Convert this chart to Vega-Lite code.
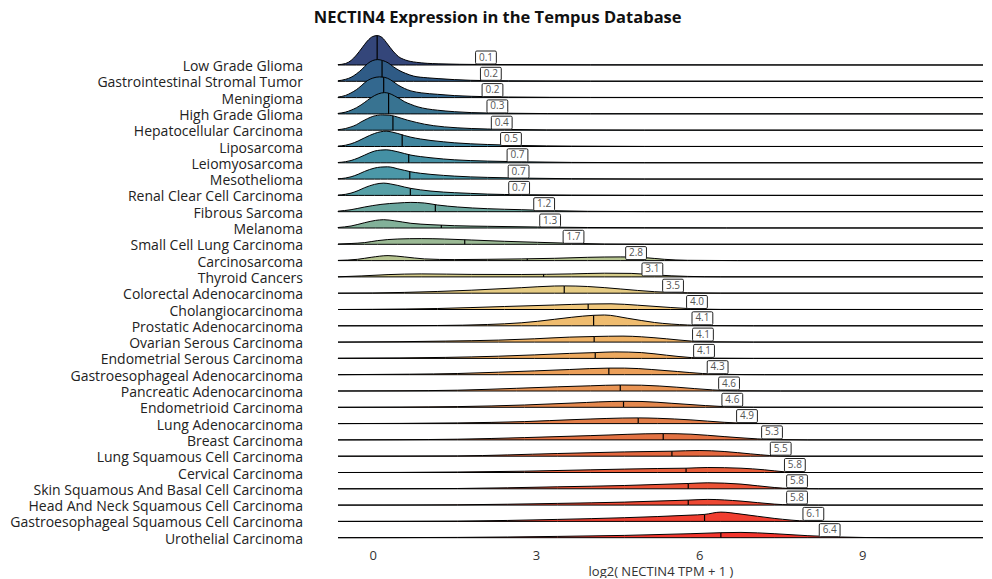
{
"$schema": "https://vega.github.io/schema/vega-lite/v6.json",
"padding": {"left": 10, "top": 10, "right": 5, "bottom": 0},
"bounds": "flush",
"spacing": 0.3,
"title": {"text": "NECTIN4 Expression in the Tempus Database", "fontSize": 16.5, "fontWeight": "bold", "font": "Open Sans", "color": "#111", "anchor": "middle", "frame": "bounds", "offset": 7},
"data": {"values": [
{"c":"Low Grade Glioma","x":-0.64,"d":0.03},{"c":"Low Grade Glioma","x":-0.5,"d":0.15},{"c":"Low Grade Glioma","x":-0.4,"d":0.45},{"c":"Low Grade Glioma","x":-0.3,"d":1.0},{"c":"Low Grade Glioma","x":-0.2,"d":1.7},{"c":"Low Grade Glioma","x":-0.1,"d":2.4},{"c":"Low Grade Glioma","x":0.0,"d":2.85},{"c":"Low Grade Glioma","x":0.08,"d":2.94},{"c":"Low Grade Glioma","x":0.17,"d":2.75},{"c":"Low Grade Glioma","x":0.27,"d":2.1},{"c":"Low Grade Glioma","x":0.37,"d":1.4},{"c":"Low Grade Glioma","x":0.47,"d":0.85},{"c":"Low Grade Glioma","x":0.6,"d":0.5},{"c":"Low Grade Glioma","x":0.8,"d":0.27},{"c":"Low Grade Glioma","x":1.2,"d":0.12},{"c":"Low Grade Glioma","x":2,"d":0.05},{"c":"Low Grade Glioma","x":4,"d":0.02},{"c":"Low Grade Glioma","x":11.22,"d":0},
{"c":"Gastrointestinal Stromal Tumor","x":-0.64,"d":0.05},{"c":"Gastrointestinal Stromal Tumor","x":-0.5,"d":0.2},{"c":"Gastrointestinal Stromal Tumor","x":-0.4,"d":0.4},{"c":"Gastrointestinal Stromal Tumor","x":-0.3,"d":0.75},{"c":"Gastrointestinal Stromal Tumor","x":-0.2,"d":1.2},{"c":"Gastrointestinal Stromal Tumor","x":-0.1,"d":1.75},{"c":"Gastrointestinal Stromal Tumor","x":0.0,"d":2.08},{"c":"Gastrointestinal Stromal Tumor","x":0.09,"d":2.17},{"c":"Gastrointestinal Stromal Tumor","x":0.18,"d":2.08},{"c":"Gastrointestinal Stromal Tumor","x":0.28,"d":1.85},{"c":"Gastrointestinal Stromal Tumor","x":0.38,"d":1.45},{"c":"Gastrointestinal Stromal Tumor","x":0.48,"d":1.1},{"c":"Gastrointestinal Stromal Tumor","x":0.6,"d":0.8},{"c":"Gastrointestinal Stromal Tumor","x":0.75,"d":0.52},{"c":"Gastrointestinal Stromal Tumor","x":1.0,"d":0.35},{"c":"Gastrointestinal Stromal Tumor","x":1.2,"d":0.27},{"c":"Gastrointestinal Stromal Tumor","x":1.8,"d":0.1},{"c":"Gastrointestinal Stromal Tumor","x":2.5,"d":0.05},{"c":"Gastrointestinal Stromal Tumor","x":4,"d":0.02},{"c":"Gastrointestinal Stromal Tumor","x":11.22,"d":0},
{"c":"Meningioma","x":-0.64,"d":0.05},{"c":"Meningioma","x":-0.5,"d":0.22},{"c":"Meningioma","x":-0.4,"d":0.47},{"c":"Meningioma","x":-0.3,"d":0.8},{"c":"Meningioma","x":-0.215,"d":1.17},{"c":"Meningioma","x":-0.1,"d":1.7},{"c":"Meningioma","x":0.0,"d":1.95},{"c":"Meningioma","x":0.12,"d":2.07},{"c":"Meningioma","x":0.22,"d":2.02},{"c":"Meningioma","x":0.32,"d":1.8},{"c":"Meningioma","x":0.46,"d":1.27},{"c":"Meningioma","x":0.58,"d":0.92},{"c":"Meningioma","x":0.7,"d":0.67},{"c":"Meningioma","x":0.9,"d":0.47},{"c":"Meningioma","x":1.19,"d":0.33},{"c":"Meningioma","x":1.5,"d":0.2},{"c":"Meningioma","x":1.81,"d":0.13},{"c":"Meningioma","x":2.5,"d":0.06},{"c":"Meningioma","x":4,"d":0.02},{"c":"Meningioma","x":11.22,"d":0},
{"c":"High Grade Glioma","x":-0.64,"d":0.05},{"c":"High Grade Glioma","x":-0.5,"d":0.18},{"c":"High Grade Glioma","x":-0.4,"d":0.37},{"c":"High Grade Glioma","x":-0.3,"d":0.62},{"c":"High Grade Glioma","x":-0.215,"d":0.9},{"c":"High Grade Glioma","x":-0.1,"d":1.35},{"c":"High Grade Glioma","x":-0.03,"d":1.63},{"c":"High Grade Glioma","x":0.1,"d":2.0},{"c":"High Grade Glioma","x":0.215,"d":2.13},{"c":"High Grade Glioma","x":0.3,"d":2.05},{"c":"High Grade Glioma","x":0.4,"d":1.8},{"c":"High Grade Glioma","x":0.5,"d":1.5},{"c":"High Grade Glioma","x":0.58,"d":1.23},{"c":"High Grade Glioma","x":0.7,"d":0.95},{"c":"High Grade Glioma","x":0.83,"d":0.7},{"c":"High Grade Glioma","x":1.0,"d":0.5},{"c":"High Grade Glioma","x":1.19,"d":0.37},{"c":"High Grade Glioma","x":1.5,"d":0.22},{"c":"High Grade Glioma","x":1.81,"d":0.13},{"c":"High Grade Glioma","x":2.42,"d":0.07},{"c":"High Grade Glioma","x":4,"d":0.02},{"c":"High Grade Glioma","x":11.22,"d":0},
{"c":"Hepatocellular Carcinoma","x":-0.64,"d":0.05},{"c":"Hepatocellular Carcinoma","x":-0.5,"d":0.17},{"c":"Hepatocellular Carcinoma","x":-0.4,"d":0.33},{"c":"Hepatocellular Carcinoma","x":-0.3,"d":0.55},{"c":"Hepatocellular Carcinoma","x":-0.215,"d":0.83},{"c":"Hepatocellular Carcinoma","x":-0.1,"d":1.15},{"c":"Hepatocellular Carcinoma","x":0.0,"d":1.38},{"c":"Hepatocellular Carcinoma","x":0.18,"d":1.53},{"c":"Hepatocellular Carcinoma","x":0.3,"d":1.5},{"c":"Hepatocellular Carcinoma","x":0.4,"d":1.4},{"c":"Hepatocellular Carcinoma","x":0.52,"d":1.2},{"c":"Hepatocellular Carcinoma","x":0.64,"d":1.0},{"c":"Hepatocellular Carcinoma","x":0.8,"d":0.78},{"c":"Hepatocellular Carcinoma","x":0.95,"d":0.6},{"c":"Hepatocellular Carcinoma","x":1.12,"d":0.45},{"c":"Hepatocellular Carcinoma","x":1.32,"d":0.33},{"c":"Hepatocellular Carcinoma","x":1.55,"d":0.24},{"c":"Hepatocellular Carcinoma","x":1.81,"d":0.17},{"c":"Hepatocellular Carcinoma","x":2.42,"d":0.08},{"c":"Hepatocellular Carcinoma","x":3.2,"d":0.03},{"c":"Hepatocellular Carcinoma","x":5,"d":0.01},{"c":"Hepatocellular Carcinoma","x":11.22,"d":0},
{"c":"Liposarcoma","x":-0.64,"d":0.04},{"c":"Liposarcoma","x":-0.5,"d":0.13},{"c":"Liposarcoma","x":-0.4,"d":0.27},{"c":"Liposarcoma","x":-0.27,"d":0.55},{"c":"Liposarcoma","x":-0.15,"d":0.87},{"c":"Liposarcoma","x":0.03,"d":1.3},{"c":"Liposarcoma","x":0.14,"d":1.47},{"c":"Liposarcoma","x":0.245,"d":1.53},{"c":"Liposarcoma","x":0.35,"d":1.45},{"c":"Liposarcoma","x":0.46,"d":1.3},{"c":"Liposarcoma","x":0.58,"d":1.1},{"c":"Liposarcoma","x":0.7,"d":0.93},{"c":"Liposarcoma","x":0.88,"d":0.75},{"c":"Liposarcoma","x":1.07,"d":0.6},{"c":"Liposarcoma","x":1.3,"d":0.47},{"c":"Liposarcoma","x":1.5,"d":0.37},{"c":"Liposarcoma","x":1.8,"d":0.27},{"c":"Liposarcoma","x":2.11,"d":0.2},{"c":"Liposarcoma","x":2.73,"d":0.1},{"c":"Liposarcoma","x":3.65,"d":0.04},{"c":"Liposarcoma","x":5,"d":0.01},{"c":"Liposarcoma","x":11.22,"d":0},
{"c":"Leiomyosarcoma","x":-0.64,"d":0.03},{"c":"Leiomyosarcoma","x":-0.5,"d":0.11},{"c":"Leiomyosarcoma","x":-0.4,"d":0.23},{"c":"Leiomyosarcoma","x":-0.27,"d":0.48},{"c":"Leiomyosarcoma","x":-0.15,"d":0.77},{"c":"Leiomyosarcoma","x":0.03,"d":1.17},{"c":"Leiomyosarcoma","x":0.14,"d":1.27},{"c":"Leiomyosarcoma","x":0.245,"d":1.3},{"c":"Leiomyosarcoma","x":0.35,"d":1.23},{"c":"Leiomyosarcoma","x":0.46,"d":1.1},{"c":"Leiomyosarcoma","x":0.58,"d":0.93},{"c":"Leiomyosarcoma","x":0.7,"d":0.77},{"c":"Leiomyosarcoma","x":0.88,"d":0.62},{"c":"Leiomyosarcoma","x":1.07,"d":0.5},{"c":"Leiomyosarcoma","x":1.3,"d":0.38},{"c":"Leiomyosarcoma","x":1.5,"d":0.3},{"c":"Leiomyosarcoma","x":1.8,"d":0.22},{"c":"Leiomyosarcoma","x":2.11,"d":0.17},{"c":"Leiomyosarcoma","x":2.73,"d":0.1},{"c":"Leiomyosarcoma","x":3.65,"d":0.04},{"c":"Leiomyosarcoma","x":5,"d":0.01},{"c":"Leiomyosarcoma","x":11.22,"d":0},
{"c":"Mesothelioma","x":-0.64,"d":0.03},{"c":"Mesothelioma","x":-0.5,"d":0.11},{"c":"Mesothelioma","x":-0.4,"d":0.23},{"c":"Mesothelioma","x":-0.27,"d":0.48},{"c":"Mesothelioma","x":-0.15,"d":0.77},{"c":"Mesothelioma","x":0.03,"d":1.1},{"c":"Mesothelioma","x":0.14,"d":1.2},{"c":"Mesothelioma","x":0.27,"d":1.23},{"c":"Mesothelioma","x":0.37,"d":1.16},{"c":"Mesothelioma","x":0.46,"d":1.03},{"c":"Mesothelioma","x":0.58,"d":0.88},{"c":"Mesothelioma","x":0.7,"d":0.73},{"c":"Mesothelioma","x":0.88,"d":0.58},{"c":"Mesothelioma","x":1.07,"d":0.47},{"c":"Mesothelioma","x":1.3,"d":0.37},{"c":"Mesothelioma","x":1.5,"d":0.3},{"c":"Mesothelioma","x":1.8,"d":0.22},{"c":"Mesothelioma","x":2.11,"d":0.17},{"c":"Mesothelioma","x":2.73,"d":0.1},{"c":"Mesothelioma","x":3.65,"d":0.04},{"c":"Mesothelioma","x":5,"d":0.01},{"c":"Mesothelioma","x":11.22,"d":0},
{"c":"Renal Clear Cell Carcinoma","x":-0.64,"d":0.03},{"c":"Renal Clear Cell Carcinoma","x":-0.5,"d":0.11},{"c":"Renal Clear Cell Carcinoma","x":-0.4,"d":0.23},{"c":"Renal Clear Cell Carcinoma","x":-0.27,"d":0.48},{"c":"Renal Clear Cell Carcinoma","x":-0.15,"d":0.77},{"c":"Renal Clear Cell Carcinoma","x":0.03,"d":1.1},{"c":"Renal Clear Cell Carcinoma","x":0.2,"d":1.23},{"c":"Renal Clear Cell Carcinoma","x":0.32,"d":1.15},{"c":"Renal Clear Cell Carcinoma","x":0.46,"d":1.0},{"c":"Renal Clear Cell Carcinoma","x":0.58,"d":0.84},{"c":"Renal Clear Cell Carcinoma","x":0.7,"d":0.7},{"c":"Renal Clear Cell Carcinoma","x":0.88,"d":0.55},{"c":"Renal Clear Cell Carcinoma","x":1.07,"d":0.43},{"c":"Renal Clear Cell Carcinoma","x":1.3,"d":0.33},{"c":"Renal Clear Cell Carcinoma","x":1.5,"d":0.27},{"c":"Renal Clear Cell Carcinoma","x":1.8,"d":0.2},{"c":"Renal Clear Cell Carcinoma","x":2.11,"d":0.13},{"c":"Renal Clear Cell Carcinoma","x":2.73,"d":0.07},{"c":"Renal Clear Cell Carcinoma","x":3.65,"d":0.03},{"c":"Renal Clear Cell Carcinoma","x":5,"d":0.01},{"c":"Renal Clear Cell Carcinoma","x":11.22,"d":0},
{"c":"Fibrous Sarcoma","x":-0.64,"d":0.05},{"c":"Fibrous Sarcoma","x":-0.4,"d":0.2},{"c":"Fibrous Sarcoma","x":-0.15,"d":0.47},{"c":"Fibrous Sarcoma","x":0.15,"d":0.73},{"c":"Fibrous Sarcoma","x":0.46,"d":0.87},{"c":"Fibrous Sarcoma","x":0.7,"d":0.93},{"c":"Fibrous Sarcoma","x":0.95,"d":0.87},{"c":"Fibrous Sarcoma","x":1.19,"d":0.67},{"c":"Fibrous Sarcoma","x":1.56,"d":0.47},{"c":"Fibrous Sarcoma","x":2.11,"d":0.3},{"c":"Fibrous Sarcoma","x":2.73,"d":0.2},{"c":"Fibrous Sarcoma","x":3.34,"d":0.1},{"c":"Fibrous Sarcoma","x":3.95,"d":0.04},{"c":"Fibrous Sarcoma","x":5,"d":0.01},{"c":"Fibrous Sarcoma","x":11.22,"d":0},
{"c":"Melanoma","x":-0.64,"d":0.05},{"c":"Melanoma","x":-0.4,"d":0.2},{"c":"Melanoma","x":-0.15,"d":0.53},{"c":"Melanoma","x":0.05,"d":0.76},{"c":"Melanoma","x":0.2,"d":0.83},{"c":"Melanoma","x":0.4,"d":0.72},{"c":"Melanoma","x":0.7,"d":0.47},{"c":"Melanoma","x":1.07,"d":0.33},{"c":"Melanoma","x":1.5,"d":0.23},{"c":"Melanoma","x":2.11,"d":0.17},{"c":"Melanoma","x":3.03,"d":0.1},{"c":"Melanoma","x":3.95,"d":0.05},{"c":"Melanoma","x":5,"d":0.03},{"c":"Melanoma","x":6.5,"d":0.01},{"c":"Melanoma","x":11.22,"d":0},
{"c":"Small Cell Lung Carcinoma","x":-0.64,"d":0.03},{"c":"Small Cell Lung Carcinoma","x":-0.4,"d":0.08},{"c":"Small Cell Lung Carcinoma","x":-0.15,"d":0.17},{"c":"Small Cell Lung Carcinoma","x":0.09,"d":0.37},{"c":"Small Cell Lung Carcinoma","x":0.46,"d":0.53},{"c":"Small Cell Lung Carcinoma","x":0.89,"d":0.57},{"c":"Small Cell Lung Carcinoma","x":1.32,"d":0.53},{"c":"Small Cell Lung Carcinoma","x":1.81,"d":0.43},{"c":"Small Cell Lung Carcinoma","x":2.42,"d":0.3},{"c":"Small Cell Lung Carcinoma","x":3.03,"d":0.2},{"c":"Small Cell Lung Carcinoma","x":3.65,"d":0.1},{"c":"Small Cell Lung Carcinoma","x":4.26,"d":0.03},{"c":"Small Cell Lung Carcinoma","x":5,"d":0.01},{"c":"Small Cell Lung Carcinoma","x":11.22,"d":0},
{"c":"Carcinosarcoma","x":-0.64,"d":0.02},{"c":"Carcinosarcoma","x":-0.28,"d":0.13},{"c":"Carcinosarcoma","x":-0.03,"d":0.33},{"c":"Carcinosarcoma","x":0.28,"d":0.5},{"c":"Carcinosarcoma","x":0.58,"d":0.37},{"c":"Carcinosarcoma","x":0.95,"d":0.17},{"c":"Carcinosarcoma","x":1.5,"d":0.1},{"c":"Carcinosarcoma","x":2.11,"d":0.13},{"c":"Carcinosarcoma","x":2.73,"d":0.17},{"c":"Carcinosarcoma","x":3.34,"d":0.23},{"c":"Carcinosarcoma","x":3.95,"d":0.33},{"c":"Carcinosarcoma","x":4.56,"d":0.37},{"c":"Carcinosarcoma","x":4.99,"d":0.3},{"c":"Carcinosarcoma","x":5.36,"d":0.13},{"c":"Carcinosarcoma","x":5.79,"d":0.03},{"c":"Carcinosarcoma","x":6.71,"d":0},{"c":"Carcinosarcoma","x":11.22,"d":0},
{"c":"Thyroid Cancers","x":-0.64,"d":0.01},{"c":"Thyroid Cancers","x":-0.2,"d":0.1},{"c":"Thyroid Cancers","x":0.28,"d":0.23},{"c":"Thyroid Cancers","x":0.89,"d":0.3},{"c":"Thyroid Cancers","x":1.81,"d":0.25},{"c":"Thyroid Cancers","x":2.73,"d":0.24},{"c":"Thyroid Cancers","x":3.65,"d":0.3},{"c":"Thyroid Cancers","x":4.26,"d":0.37},{"c":"Thyroid Cancers","x":4.75,"d":0.35},{"c":"Thyroid Cancers","x":5.18,"d":0.2},{"c":"Thyroid Cancers","x":5.79,"d":0.05},{"c":"Thyroid Cancers","x":6.4,"d":0.01},{"c":"Thyroid Cancers","x":11.22,"d":0},
{"c":"Colorectal Adenocarcinoma","x":-0.64,"d":0},{"c":"Colorectal Adenocarcinoma","x":0,"d":0.02},{"c":"Colorectal Adenocarcinoma","x":0.58,"d":0.08},{"c":"Colorectal Adenocarcinoma","x":1.81,"d":0.3},{"c":"Colorectal Adenocarcinoma","x":2.73,"d":0.55},{"c":"Colorectal Adenocarcinoma","x":3.34,"d":0.72},{"c":"Colorectal Adenocarcinoma","x":3.52,"d":0.73},{"c":"Colorectal Adenocarcinoma","x":3.95,"d":0.67},{"c":"Colorectal Adenocarcinoma","x":4.56,"d":0.42},{"c":"Colorectal Adenocarcinoma","x":5.18,"d":0.15},{"c":"Colorectal Adenocarcinoma","x":5.79,"d":0.04},{"c":"Colorectal Adenocarcinoma","x":6.4,"d":0.01},{"c":"Colorectal Adenocarcinoma","x":11.22,"d":0},
{"c":"Cholangiocarcinoma","x":-0.64,"d":0},{"c":"Cholangiocarcinoma","x":0,"d":0.02},{"c":"Cholangiocarcinoma","x":1.19,"d":0.1},{"c":"Cholangiocarcinoma","x":2.42,"d":0.3},{"c":"Cholangiocarcinoma","x":3.34,"d":0.45},{"c":"Cholangiocarcinoma","x":3.96,"d":0.55},{"c":"Cholangiocarcinoma","x":4.38,"d":0.57},{"c":"Cholangiocarcinoma","x":4.87,"d":0.43},{"c":"Cholangiocarcinoma","x":5.48,"d":0.2},{"c":"Cholangiocarcinoma","x":5.85,"d":0.08},{"c":"Cholangiocarcinoma","x":6.4,"d":0.01},{"c":"Cholangiocarcinoma","x":11.22,"d":0},
{"c":"Prostatic Adenocarcinoma","x":-0.64,"d":0},{"c":"Prostatic Adenocarcinoma","x":0.5,"d":0.01},{"c":"Prostatic Adenocarcinoma","x":1.19,"d":0.03},{"c":"Prostatic Adenocarcinoma","x":2.11,"d":0.13},{"c":"Prostatic Adenocarcinoma","x":2.73,"d":0.3},{"c":"Prostatic Adenocarcinoma","x":3.03,"d":0.45},{"c":"Prostatic Adenocarcinoma","x":3.65,"d":0.85},{"c":"Prostatic Adenocarcinoma","x":4.06,"d":1.05},{"c":"Prostatic Adenocarcinoma","x":4.26,"d":1.08},{"c":"Prostatic Adenocarcinoma","x":4.69,"d":0.75},{"c":"Prostatic Adenocarcinoma","x":5.18,"d":0.33},{"c":"Prostatic Adenocarcinoma","x":5.79,"d":0.08},{"c":"Prostatic Adenocarcinoma","x":6.22,"d":0.02},{"c":"Prostatic Adenocarcinoma","x":7,"d":0},{"c":"Prostatic Adenocarcinoma","x":11.22,"d":0},
{"c":"Ovarian Serous Carcinoma","x":-0.64,"d":0},{"c":"Ovarian Serous Carcinoma","x":0.5,"d":0.04},{"c":"Ovarian Serous Carcinoma","x":1.33,"d":0.1},{"c":"Ovarian Serous Carcinoma","x":2.31,"d":0.2},{"c":"Ovarian Serous Carcinoma","x":2.97,"d":0.33},{"c":"Ovarian Serous Carcinoma","x":3.62,"d":0.5},{"c":"Ovarian Serous Carcinoma","x":4.07,"d":0.56},{"c":"Ovarian Serous Carcinoma","x":4.6,"d":0.6},{"c":"Ovarian Serous Carcinoma","x":4.94,"d":0.53},{"c":"Ovarian Serous Carcinoma","x":5.4,"d":0.33},{"c":"Ovarian Serous Carcinoma","x":5.86,"d":0.1},{"c":"Ovarian Serous Carcinoma","x":6.25,"d":0.03},{"c":"Ovarian Serous Carcinoma","x":7,"d":0},{"c":"Ovarian Serous Carcinoma","x":11.22,"d":0},
{"c":"Endometrial Serous Carcinoma","x":-0.64,"d":0.02},{"c":"Endometrial Serous Carcinoma","x":0.5,"d":0.05},{"c":"Endometrial Serous Carcinoma","x":1.33,"d":0.1},{"c":"Endometrial Serous Carcinoma","x":2.31,"d":0.22},{"c":"Endometrial Serous Carcinoma","x":2.97,"d":0.35},{"c":"Endometrial Serous Carcinoma","x":3.62,"d":0.5},{"c":"Endometrial Serous Carcinoma","x":4.09,"d":0.58},{"c":"Endometrial Serous Carcinoma","x":4.45,"d":0.65},{"c":"Endometrial Serous Carcinoma","x":4.94,"d":0.58},{"c":"Endometrial Serous Carcinoma","x":5.4,"d":0.32},{"c":"Endometrial Serous Carcinoma","x":5.86,"d":0.08},{"c":"Endometrial Serous Carcinoma","x":6.25,"d":0.02},{"c":"Endometrial Serous Carcinoma","x":7,"d":0},{"c":"Endometrial Serous Carcinoma","x":11.22,"d":0},
{"c":"Gastroesophageal Adenocarcinoma","x":-0.64,"d":0},{"c":"Gastroesophageal Adenocarcinoma","x":0.67,"d":0.05},{"c":"Gastroesophageal Adenocarcinoma","x":1.56,"d":0.12},{"c":"Gastroesophageal Adenocarcinoma","x":2.31,"d":0.25},{"c":"Gastroesophageal Adenocarcinoma","x":2.97,"d":0.38},{"c":"Gastroesophageal Adenocarcinoma","x":3.62,"d":0.52},{"c":"Gastroesophageal Adenocarcinoma","x":4.34,"d":0.66},{"c":"Gastroesophageal Adenocarcinoma","x":4.63,"d":0.66},{"c":"Gastroesophageal Adenocarcinoma","x":5.13,"d":0.52},{"c":"Gastroesophageal Adenocarcinoma","x":5.6,"d":0.32},{"c":"Gastroesophageal Adenocarcinoma","x":6.06,"d":0.12},{"c":"Gastroesophageal Adenocarcinoma","x":6.45,"d":0.04},{"c":"Gastroesophageal Adenocarcinoma","x":7.2,"d":0},{"c":"Gastroesophageal Adenocarcinoma","x":11.22,"d":0},
{"c":"Pancreatic Adenocarcinoma","x":-0.64,"d":0},{"c":"Pancreatic Adenocarcinoma","x":0.5,"d":0.02},{"c":"Pancreatic Adenocarcinoma","x":1.56,"d":0.08},{"c":"Pancreatic Adenocarcinoma","x":2.64,"d":0.27},{"c":"Pancreatic Adenocarcinoma","x":3.4,"d":0.42},{"c":"Pancreatic Adenocarcinoma","x":4.0,"d":0.52},{"c":"Pancreatic Adenocarcinoma","x":4.55,"d":0.6},{"c":"Pancreatic Adenocarcinoma","x":4.94,"d":0.58},{"c":"Pancreatic Adenocarcinoma","x":5.59,"d":0.38},{"c":"Pancreatic Adenocarcinoma","x":6.25,"d":0.11},{"c":"Pancreatic Adenocarcinoma","x":6.71,"d":0.02},{"c":"Pancreatic Adenocarcinoma","x":7.5,"d":0},{"c":"Pancreatic Adenocarcinoma","x":11.22,"d":0},
{"c":"Endometrioid Carcinoma","x":-0.64,"d":0},{"c":"Endometrioid Carcinoma","x":0.5,"d":0.02},{"c":"Endometrioid Carcinoma","x":1.56,"d":0.07},{"c":"Endometrioid Carcinoma","x":2.79,"d":0.23},{"c":"Endometrioid Carcinoma","x":3.7,"d":0.43},{"c":"Endometrioid Carcinoma","x":4.61,"d":0.6},{"c":"Endometrioid Carcinoma","x":4.95,"d":0.58},{"c":"Endometrioid Carcinoma","x":5.5,"d":0.4},{"c":"Endometrioid Carcinoma","x":6.12,"d":0.17},{"c":"Endometrioid Carcinoma","x":6.46,"d":0.07},{"c":"Endometrioid Carcinoma","x":7.0,"d":0.01},{"c":"Endometrioid Carcinoma","x":11.22,"d":0},
{"c":"Lung Adenocarcinoma","x":-0.64,"d":0},{"c":"Lung Adenocarcinoma","x":0.5,"d":0.02},{"c":"Lung Adenocarcinoma","x":1.56,"d":0.07},{"c":"Lung Adenocarcinoma","x":2.79,"d":0.2},{"c":"Lung Adenocarcinoma","x":3.7,"d":0.4},{"c":"Lung Adenocarcinoma","x":4.88,"d":0.57},{"c":"Lung Adenocarcinoma","x":5.24,"d":0.53},{"c":"Lung Adenocarcinoma","x":5.85,"d":0.37},{"c":"Lung Adenocarcinoma","x":6.46,"d":0.13},{"c":"Lung Adenocarcinoma","x":6.9,"d":0.03},{"c":"Lung Adenocarcinoma","x":7.5,"d":0},{"c":"Lung Adenocarcinoma","x":11.22,"d":0},
{"c":"Breast Carcinoma","x":-0.64,"d":0},{"c":"Breast Carcinoma","x":0.5,"d":0.02},{"c":"Breast Carcinoma","x":1.56,"d":0.07},{"c":"Breast Carcinoma","x":2.79,"d":0.23},{"c":"Breast Carcinoma","x":4.01,"d":0.43},{"c":"Breast Carcinoma","x":5.34,"d":0.63},{"c":"Breast Carcinoma","x":5.85,"d":0.57},{"c":"Breast Carcinoma","x":6.46,"d":0.33},{"c":"Breast Carcinoma","x":7.08,"d":0.1},{"c":"Breast Carcinoma","x":7.4,"d":0.03},{"c":"Breast Carcinoma","x":8,"d":0},{"c":"Breast Carcinoma","x":11.22,"d":0},
{"c":"Lung Squamous Cell Carcinoma","x":-0.64,"d":0},{"c":"Lung Squamous Cell Carcinoma","x":0.5,"d":0.01},{"c":"Lung Squamous Cell Carcinoma","x":1.56,"d":0.03},{"c":"Lung Squamous Cell Carcinoma","x":3.4,"d":0.27},{"c":"Lung Squamous Cell Carcinoma","x":4.63,"d":0.43},{"c":"Lung Squamous Cell Carcinoma","x":5.5,"d":0.5},{"c":"Lung Squamous Cell Carcinoma","x":6.0,"d":0.57},{"c":"Lung Squamous Cell Carcinoma","x":6.46,"d":0.47},{"c":"Lung Squamous Cell Carcinoma","x":6.95,"d":0.23},{"c":"Lung Squamous Cell Carcinoma","x":7.3,"d":0.07},{"c":"Lung Squamous Cell Carcinoma","x":7.69,"d":0},{"c":"Lung Squamous Cell Carcinoma","x":11.22,"d":0},
{"c":"Cervical Carcinoma","x":-0.64,"d":0},{"c":"Cervical Carcinoma","x":0.5,"d":0.01},{"c":"Cervical Carcinoma","x":1.56,"d":0.05},{"c":"Cervical Carcinoma","x":2.79,"d":0.13},{"c":"Cervical Carcinoma","x":4.01,"d":0.27},{"c":"Cervical Carcinoma","x":5.24,"d":0.4},{"c":"Cervical Carcinoma","x":5.76,"d":0.43},{"c":"Cervical Carcinoma","x":6.16,"d":0.5},{"c":"Cervical Carcinoma","x":6.77,"d":0.43},{"c":"Cervical Carcinoma","x":7.2,"d":0.27},{"c":"Cervical Carcinoma","x":7.57,"d":0.07},{"c":"Cervical Carcinoma","x":8.0,"d":0},{"c":"Cervical Carcinoma","x":11.22,"d":0},
{"c":"Skin Squamous And Basal Cell Carcinoma","x":-0.64,"d":0},{"c":"Skin Squamous And Basal Cell Carcinoma","x":0.5,"d":0.01},{"c":"Skin Squamous And Basal Cell Carcinoma","x":1.56,"d":0.03},{"c":"Skin Squamous And Basal Cell Carcinoma","x":3.4,"d":0.2},{"c":"Skin Squamous And Basal Cell Carcinoma","x":4.63,"d":0.33},{"c":"Skin Squamous And Basal Cell Carcinoma","x":5.8,"d":0.53},{"c":"Skin Squamous And Basal Cell Carcinoma","x":6.16,"d":0.6},{"c":"Skin Squamous And Basal Cell Carcinoma","x":6.77,"d":0.47},{"c":"Skin Squamous And Basal Cell Carcinoma","x":7.38,"d":0.13},{"c":"Skin Squamous And Basal Cell Carcinoma","x":7.69,"d":0.03},{"c":"Skin Squamous And Basal Cell Carcinoma","x":8.2,"d":0},{"c":"Skin Squamous And Basal Cell Carcinoma","x":11.22,"d":0},
{"c":"Head And Neck Squamous Cell Carcinoma","x":-0.64,"d":0},{"c":"Head And Neck Squamous Cell Carcinoma","x":0.5,"d":0.01},{"c":"Head And Neck Squamous Cell Carcinoma","x":1.56,"d":0.03},{"c":"Head And Neck Squamous Cell Carcinoma","x":3.4,"d":0.17},{"c":"Head And Neck Squamous Cell Carcinoma","x":4.63,"d":0.3},{"c":"Head And Neck Squamous Cell Carcinoma","x":5.8,"d":0.5},{"c":"Head And Neck Squamous Cell Carcinoma","x":6.16,"d":0.57},{"c":"Head And Neck Squamous Cell Carcinoma","x":6.77,"d":0.4},{"c":"Head And Neck Squamous Cell Carcinoma","x":7.38,"d":0.1},{"c":"Head And Neck Squamous Cell Carcinoma","x":7.69,"d":0.02},{"c":"Head And Neck Squamous Cell Carcinoma","x":8.2,"d":0},{"c":"Head And Neck Squamous Cell Carcinoma","x":11.22,"d":0},
{"c":"Gastroesophageal Squamous Cell Carcinoma","x":-0.64,"d":0},{"c":"Gastroesophageal Squamous Cell Carcinoma","x":0.5,"d":0.01},{"c":"Gastroesophageal Squamous Cell Carcinoma","x":1.56,"d":0.03},{"c":"Gastroesophageal Squamous Cell Carcinoma","x":3.4,"d":0.2},{"c":"Gastroesophageal Squamous Cell Carcinoma","x":4.63,"d":0.37},{"c":"Gastroesophageal Squamous Cell Carcinoma","x":5.85,"d":0.63},{"c":"Gastroesophageal Squamous Cell Carcinoma","x":6.1,"d":0.7},{"c":"Gastroesophageal Squamous Cell Carcinoma","x":6.4,"d":0.93},{"c":"Gastroesophageal Squamous Cell Carcinoma","x":6.77,"d":0.73},{"c":"Gastroesophageal Squamous Cell Carcinoma","x":7.38,"d":0.3},{"c":"Gastroesophageal Squamous Cell Carcinoma","x":8.0,"d":0.03},{"c":"Gastroesophageal Squamous Cell Carcinoma","x":8.5,"d":0},{"c":"Gastroesophageal Squamous Cell Carcinoma","x":11.22,"d":0},
{"c":"Urothelial Carcinoma","x":-0.64,"d":0},{"c":"Urothelial Carcinoma","x":0.5,"d":0.01},{"c":"Urothelial Carcinoma","x":1.56,"d":0.03},{"c":"Urothelial Carcinoma","x":3.4,"d":0.13},{"c":"Urothelial Carcinoma","x":4.63,"d":0.23},{"c":"Urothelial Carcinoma","x":5.85,"d":0.4},{"c":"Urothelial Carcinoma","x":6.4,"d":0.5},{"c":"Urothelial Carcinoma","x":6.77,"d":0.53},{"c":"Urothelial Carcinoma","x":7.38,"d":0.4},{"c":"Urothelial Carcinoma","x":8.0,"d":0.2},{"c":"Urothelial Carcinoma","x":8.61,"d":0.07},{"c":"Urothelial Carcinoma","x":9.53,"d":0},{"c":"Urothelial Carcinoma","x":11.22,"d":0},
{"c":"Low Grade Glioma","m":0.08,"dm":2.94,"lab":"0.1"},
{"c":"Gastrointestinal Stromal Tumor","m":0.17,"dm":2.06,"lab":"0.2"},
{"c":"Meningioma","m":0.2,"dm":2.03,"lab":"0.2"},
{"c":"High Grade Glioma","m":0.29,"dm":2.06,"lab":"0.3"},
{"c":"Hepatocellular Carcinoma","m":0.37,"dm":1.43,"lab":"0.4"},
{"c":"Liposarcoma","m":0.54,"dm":1.2,"lab":"0.5"},
{"c":"Leiomyosarcoma","m":0.66,"dm":0.82,"lab":"0.7"},
{"c":"Mesothelioma","m":0.68,"dm":0.75,"lab":"0.7"},
{"c":"Renal Clear Cell Carcinoma","m":0.69,"dm":0.7,"lab":"0.7"},
{"c":"Fibrous Sarcoma","m":1.15,"dm":0.7,"lab":"1.2"},
{"c":"Melanoma","m":1.26,"dm":0.3,"lab":"1.3"},
{"c":"Small Cell Lung Carcinoma","m":1.69,"dm":0.45,"lab":"1.7"},
{"c":"Carcinosarcoma","m":2.84,"dm":0.18,"lab":"2.8"},
{"c":"Thyroid Cancers","m":3.14,"dm":0.26,"lab":"3.1"},
{"c":"Colorectal Adenocarcinoma","m":3.52,"dm":0.73,"lab":"3.5"},
{"c":"Cholangiocarcinoma","m":3.96,"dm":0.55,"lab":"4.0"},
{"c":"Prostatic Adenocarcinoma","m":4.06,"dm":1.05,"lab":"4.1"},
{"c":"Ovarian Serous Carcinoma","m":4.07,"dm":0.56,"lab":"4.1"},
{"c":"Endometrial Serous Carcinoma","m":4.09,"dm":0.58,"lab":"4.1"},
{"c":"Gastroesophageal Adenocarcinoma","m":4.34,"dm":0.66,"lab":"4.3"},
{"c":"Pancreatic Adenocarcinoma","m":4.55,"dm":0.6,"lab":"4.6"},
{"c":"Endometrioid Carcinoma","m":4.61,"dm":0.6,"lab":"4.6"},
{"c":"Lung Adenocarcinoma","m":4.88,"dm":0.57,"lab":"4.9"},
{"c":"Breast Carcinoma","m":5.34,"dm":0.63,"lab":"5.3"},
{"c":"Lung Squamous Cell Carcinoma","m":5.5,"dm":0.5,"lab":"5.5"},
{"c":"Cervical Carcinoma","m":5.76,"dm":0.43,"lab":"5.8"},
{"c":"Skin Squamous And Basal Cell Carcinoma","m":5.8,"dm":0.53,"lab":"5.8"},
{"c":"Head And Neck Squamous Cell Carcinoma","m":5.8,"dm":0.5,"lab":"5.8"},
{"c":"Gastroesophageal Squamous Cell Carcinoma","m":6.1,"dm":0.7,"lab":"6.1"},
{"c":"Urothelial Carcinoma","m":6.4,"dm":0.5,"lab":"6.4"}
]},
"facet": {"row": {"field": "c", "type": "nominal", "title": null,
  "sort": ["Low Grade Glioma","Gastrointestinal Stromal Tumor","Meningioma","High Grade Glioma","Hepatocellular Carcinoma","Liposarcoma","Leiomyosarcoma","Mesothelioma","Renal Clear Cell Carcinoma","Fibrous Sarcoma","Melanoma","Small Cell Lung Carcinoma","Carcinosarcoma","Thyroid Cancers","Colorectal Adenocarcinoma","Cholangiocarcinoma","Prostatic Adenocarcinoma","Ovarian Serous Carcinoma","Endometrial Serous Carcinoma","Gastroesophageal Adenocarcinoma","Pancreatic Adenocarcinoma","Endometrioid Carcinoma","Lung Adenocarcinoma","Breast Carcinoma","Lung Squamous Cell Carcinoma","Cervical Carcinoma","Skin Squamous And Basal Cell Carcinoma","Head And Neck Squamous Cell Carcinoma","Gastroesophageal Squamous Cell Carcinoma","Urothelial Carcinoma"],
  "header": {"labelAngle": 0, "labelAlign": "left", "labelOrient": "left", "labelBaseline": "line-top", "labelLineHeight": 20, "labelPadding": 35, "labelFontSize": 14, "labelColor": "#222", "labelFont": "Open Sans", "labelLimit": 0}}},
"spec": {
  "width": 645,
  "height": 16,
  "layer": [
    {"transform": [{"filter": "isValid(datum.d)"}],
     "mark": {"type": "area", "interpolate": "monotone", "stroke": "#000", "strokeWidth": 1, "fillOpacity": 1},
     "encoding": {
       "x": {"field": "x", "type": "quantitative", "scale": {"domain": [-0.64, 11.22], "nice": false, "zero": false},
             "axis": {"values": [0, 3, 6, 9], "format": "d", "domain": false, "ticks": false, "grid": false, "labelPadding": 11, "labelFontSize": 13, "labelColor": "#333", "labelFont": "Open Sans", "title": "log2( NECTIN4  TPM + 1 )", "titleFont": "Open Sans", "titleFontSize": 13, "titleFontWeight": "normal", "titleColor": "#333", "titlePadding": 3}},
       "y": {"field": "d", "type": "quantitative", "scale": {"domain": [0, 3], "range": [16, -14], "nice": false, "zero": true}, "axis": null},
       "fill": {"field": "c", "type": "nominal", "legend": null,
         "scale": {"domain": ["Low Grade Glioma","Gastrointestinal Stromal Tumor","Meningioma","High Grade Glioma","Hepatocellular Carcinoma","Liposarcoma","Leiomyosarcoma","Mesothelioma","Renal Clear Cell Carcinoma","Fibrous Sarcoma","Melanoma","Small Cell Lung Carcinoma","Carcinosarcoma","Thyroid Cancers","Colorectal Adenocarcinoma","Cholangiocarcinoma","Prostatic Adenocarcinoma","Ovarian Serous Carcinoma","Endometrial Serous Carcinoma","Gastroesophageal Adenocarcinoma","Pancreatic Adenocarcinoma","Endometrioid Carcinoma","Lung Adenocarcinoma","Breast Carcinoma","Lung Squamous Cell Carcinoma","Cervical Carcinoma","Skin Squamous And Basal Cell Carcinoma","Head And Neck Squamous Cell Carcinoma","Gastroesophageal Squamous Cell Carcinoma","Urothelial Carcinoma"],
           "range": ["#34467a","#2f5b86","#33688f","#387391","#3c7d99","#40859e","#4490a4","#4b98a8","#57a0a7","#6aa69e","#82b199","#9bba95","#b6c490","#d4cb88","#e6cc84","#f0c77c","#efbc6f","#efb266","#eda95f","#eb9f59","#e99454","#e4884e","#e27d48","#e37243","#e4673e","#e85d3a","#eb5236","#ed4833","#f03e30","#f2352d"]}}
     }},
    {"transform": [{"filter": "isValid(datum.m)"}],
     "mark": {"type": "rule", "stroke": "#000", "strokeWidth": 1.2},
     "encoding": {"x": {"field": "m", "type": "quantitative"}, "y": {"field": "dm", "type": "quantitative"}, "y2": {"datum": 0}}},
    {"transform": [{"filter": "isValid(datum.m)"}],
     "mark": {"type": "point", "shape": "M-1.4,-1L1.4,-1Q1.6,-1 1.6,-0.8L1.6,0.8Q1.6,1 1.4,1L-1.4,1Q-1.6,1 -1.6,0.8L-1.6,-0.8Q-1.6,-1 -1.4,-1Z", "size": 169, "filled": true, "fill": "#ffffff", "stroke": "#222", "strokeWidth": 1, "opacity": 1, "xOffset": 108.8, "yOffset": -7.5},
     "encoding": {"x": {"field": "m", "type": "quantitative"}, "y": {"datum": 0}}},
    {"transform": [{"filter": "isValid(datum.m)"}],
     "mark": {"type": "text", "fontSize": 10, "font": "Open Sans", "color": "#555", "align": "center", "baseline": "middle", "xOffset": 108.8, "yOffset": -7.5},
     "encoding": {"x": {"field": "m", "type": "quantitative"}, "y": {"datum": 0}, "text": {"field": "lab", "type": "nominal"}}}
  ]
},
"config": {"view": {"stroke": null}, "font": "Open Sans"}
}
